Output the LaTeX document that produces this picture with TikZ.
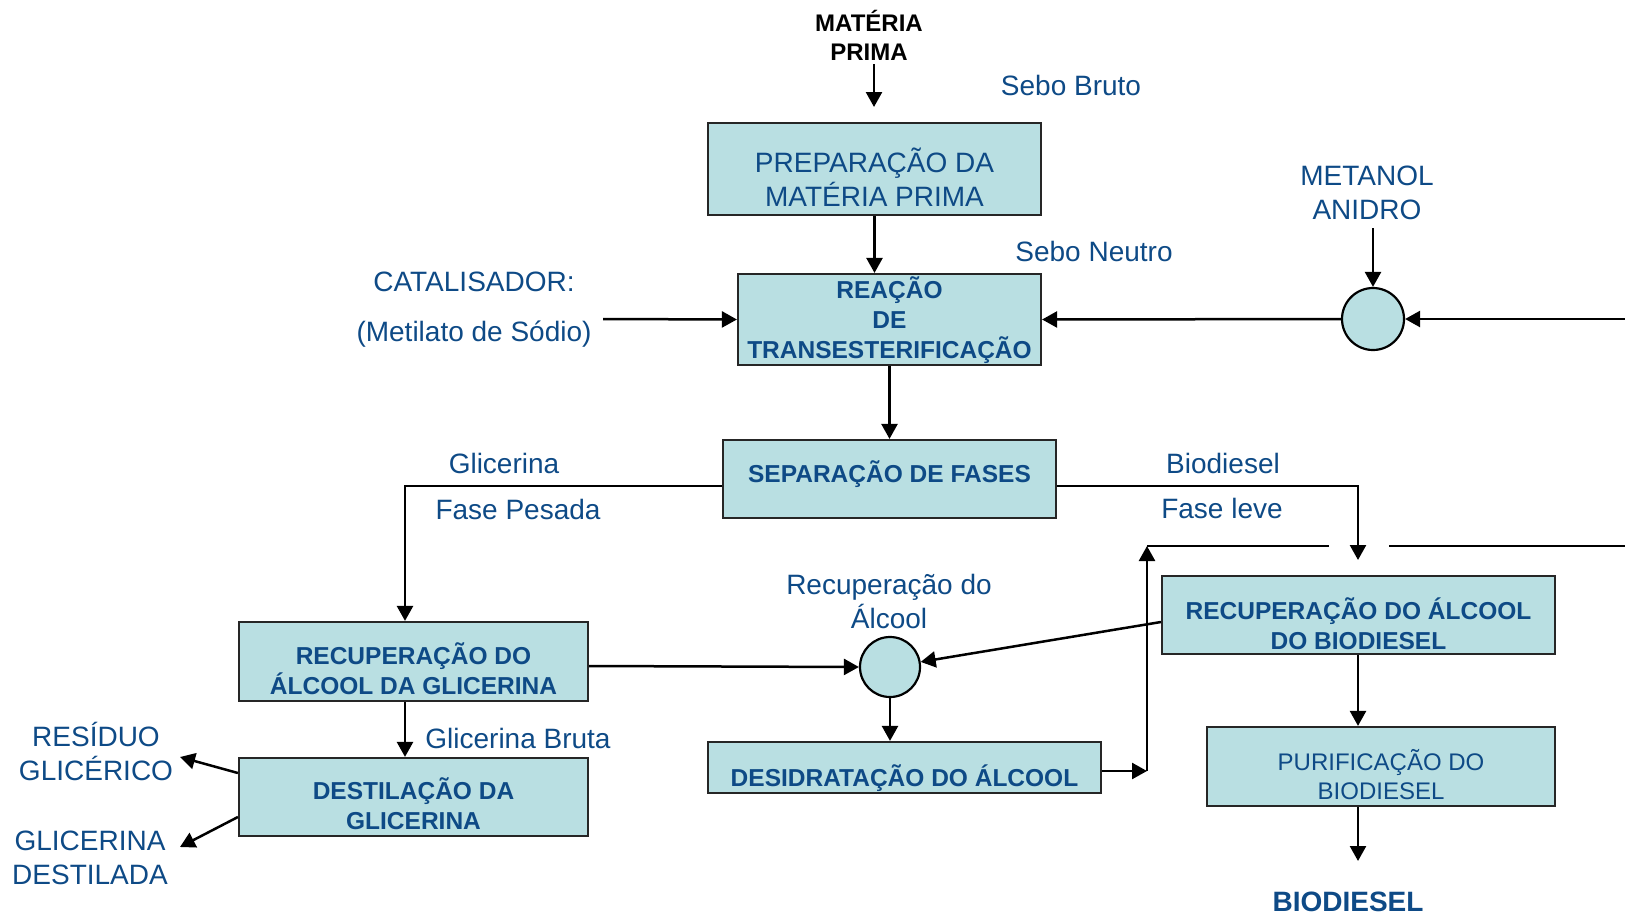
\documentclass[tikz,border=0pt]{standalone}
\usepackage{fontspec}
\setmainfont{Liberation Sans}
\usetikzlibrary{arrows.meta}
\definecolor{boxfill}{HTML}{B9DFE2}
\definecolor{txtblue}{HTML}{0E4A86}
\begin{document}
\begin{tikzpicture}[x=1pt,y=-1pt,
  box/.style={draw=black!85, line width=2.2pt, fill=boxfill, inner sep=0pt},
  bt/.style={text=txtblue, font=\bfseries\fontsize{24.5}{30}\selectfont, align=center, inner sep=0pt},
  rt/.style={text=txtblue, font=\fontsize{28}{34}\selectfont, align=center, inner sep=0pt},
  rts/.style={text=txtblue, font=\fontsize{24}{29}\selectfont, align=center, inner sep=0pt},
  arr/.style={line width=2.5pt, -{Triangle[length=15pt,width=16pt]}},
  ln/.style={line width=2.5pt},
  circ/.style={circle, draw=black, line width=2.2pt, fill=boxfill, inner sep=0pt}]
\useasboundingbox (0,0) rectangle (1625,916);

% boxes
\node[box, minimum width=333pt, minimum height=92pt] (prep) at (874.5,169) {};
\node[rt] (prept) at ([yshift=-8pt]prep.center) {PREPARAÇÃO DA\\MATÉRIA PRIMA};
\node[box, minimum width=303pt, minimum height=91pt] (reac) at (889.5,319.5) {};
\node[bt] (react) at ([yshift=-1pt]reac.center) {REAÇÃO\\DE\\TRANSESTERIFICAÇÃO};
\node[box, minimum width=333pt, minimum height=78pt] (sep) at (889.5,479) {};
\node[bt] (sept) at ([yshift=5pt]sep.center) {SEPARAÇÃO DE FASES};
\node[box, minimum width=349pt, minimum height=79pt] (rag) at (413.5,661.5) {};
\node[bt] (ragt) at ([yshift=-7pt]rag.center) {RECUPERAÇÃO DO\\ÁLCOOL DA GLICERINA};
\node[box, minimum width=349pt, minimum height=78pt] (dest) at (413.5,797) {};
\node[bt] (destt) at ([yshift=-7pt]dest.center) {DESTILAÇÃO DA\\GLICERINA};
\node[box, minimum width=393pt, minimum height=51pt] (des) at (904.5,767.5) {};
\node[bt] (dest2) at ([yshift=-11pt]des.center) {DESIDRATAÇÃO DO ÁLCOOL};
\node[box, minimum width=393pt, minimum height=78pt] (rab) at (1358.5,615) {};
\node[bt] (rabt) at ([yshift=-9pt]rab.center) {RECUPERAÇÃO DO ÁLCOOL\\DO BIODIESEL};
\node[box, minimum width=348pt, minimum height=79pt] (pur) at (1381,766.5) {};
\node[rts] (purt) at ([yshift=-8pt]pur.center) {PURIFICAÇÃO DO\\BIODIESEL};
\node[circ, minimum size=62pt] (circ1) at (1373,319) {};
\node[circ, minimum size=60pt] (circ2) at (890,667) {};

% labels
\node[font=\bfseries\fontsize{24}{29}\selectfont, align=center, inner sep=0pt] (mp) at (869,35) {MATÉRIA\\PRIMA};
\node[rt] (sebob) at (1071,85) {Sebo Bruto};
\node[rt] (seben) at (1094,251) {Sebo Neutro};
\node[rt] (cat) at (474,282) {CATALISADOR:};
\node[rt] (met) at (474,334) {(Metilato de Sódio)};
\node[rt] (metanol) at (1367,193) {METANOL\\ANIDRO};
\node[rt] (glic) at (504,463) {Glicerina};
\node[rt] (fp) at (518,509) {Fase Pesada};
\node[rt] (biod) at (1223,463) {Biodiesel};
\node[rt] (fl) at (1222,508) {Fase leve};
\node[rt] (recal) at (889,601) {Recuperação do\\Álcool};
\node[rt] (gb) at (518,738) {Glicerina Bruta};
\node[rt] (res) at (96,751) {RESÍDUO\\GLICÉRICO};
\node[rt] (gd) at (90,858) {GLICERINA\\DESTILADA};
\node[text=txtblue, font=\bfseries\fontsize{28}{34}\selectfont, inner sep=0pt] (bio) at (1348,902) {BIODIESEL};

% free ends
\coordinate (mpend) at (874,64);
\coordinate (mptip) at (874,107);
\coordinate (catend) at (603,319);
\coordinate (rightin) at (1625,319);
\coordinate (metend) at (1373,228);
\coordinate (biotip) at (1358,560);
\coordinate (rc1) at (1147,771);
\coordinate (rc2) at (1147,546);
\coordinate (g1) at (1329,546);
\coordinate (g2) at (1389,546);
\coordinate (rightout) at (1625,546);
\coordinate (restip) at (180,757);
\coordinate (gdtip) at (180,847);
\coordinate (biodtip) at (1358,861);

% connectors
\draw[arr] (mpend) -- (mptip);
\draw[arr] (prep.south) -- (prep.south |- reac.north);
\draw[arr] (catend) -- (reac.west);
\draw[arr] (circ1.west) -- (reac.east);
\draw[arr] (rightin) -- (circ1.east);
\draw[arr] (metend) -- (circ1.north);
\draw[arr] (reac.south) -- (sep.north);
\draw[arr] ([yshift=-7pt]sep.west) -| ([xshift=-8.5pt]rag.north);
\draw[arr] ([yshift=-7pt]sep.east) -| (biotip);
\draw[arr] ([yshift=-4.5pt]rag.east) -- (circ2.west);
\draw[arr] ([yshift=-7pt]rab.west) -- (circ2);
\draw[arr] (circ2.south) -- (des.north -| circ2.south);
\draw[arr] ([xshift=-8.5pt]rag.south) -- ([xshift=-8.5pt]dest.north);
\draw[arr] ([yshift=24pt]dest.west) -- (restip);
\draw[arr] ([yshift=-20pt]dest.west) -- (gdtip);
\draw[arr] ([yshift=-3.5pt]des.east) -- (rc1);
\draw[arr] (rc1) -- (rc2);
\draw[ln] (rc2) -- (g1);
\draw[ln] (g2) -- (rightout);
\draw[arr] ([xshift=-0.5pt]rab.south) -- ([xshift=-0.5pt]rab.south |- pur.north);
\draw[arr] ([xshift=-23pt]pur.south) -- (biodtip);
\end{tikzpicture}
\end{document}
